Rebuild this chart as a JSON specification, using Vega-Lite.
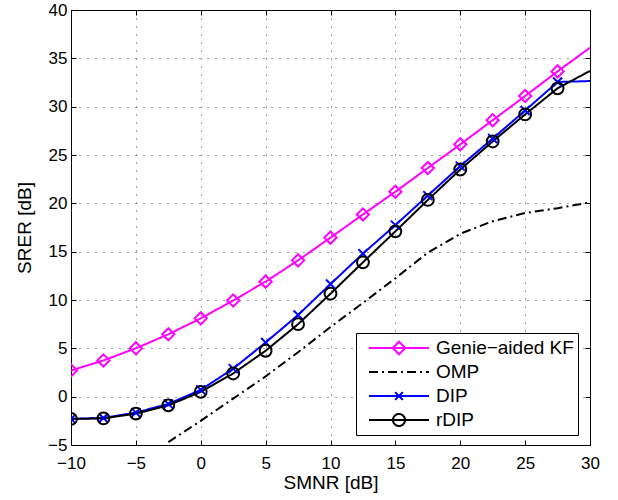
{
  "$schema": "https://vega.github.io/schema/vega-lite/v6.json",
  "width": 519,
  "height": 435,
  "autosize": "none",
  "padding": {"left": 71, "top": 10, "right": 28, "bottom": 55},
  "background": "white",
  "config": {
    "font": "Liberation Sans",
    "view": {"stroke": "black", "strokeWidth": 1},
    "axis": {
      "domain": false,
      "tickSize": -5,
      "tickColor": "black",
      "tickWidth": 1,
      "labelFontSize": 17,
      "labelColor": "black",
      "labelFont": "Liberation Sans",
      "titleFont": "Liberation Sans",
      "titleFontSize": 19,
      "titleFontWeight": "normal",
      "titleColor": "black",
      "gridColor": "#333333",
      "gridDash": [1, 7],
      "gridWidth": 1,
      "gridOpacity": 0.9
    },
    "legend": {
      "labelFont": "Liberation Sans",
      "labelFontSize": 19,
      "labelColor": "black"
    }
  },
  "data": {
    "values": [
      {"series": "Genie−aided KF", "smnr": -10, "srer": 2.7},
      {"series": "Genie−aided KF", "smnr": -7.5, "srer": 3.75},
      {"series": "Genie−aided KF", "smnr": -5, "srer": 5.0},
      {"series": "Genie−aided KF", "smnr": -2.5, "srer": 6.45},
      {"series": "Genie−aided KF", "smnr": 0, "srer": 8.1},
      {"series": "Genie−aided KF", "smnr": 2.5, "srer": 9.95},
      {"series": "Genie−aided KF", "smnr": 5, "srer": 11.9},
      {"series": "Genie−aided KF", "smnr": 7.5, "srer": 14.1},
      {"series": "Genie−aided KF", "smnr": 10, "srer": 16.45},
      {"series": "Genie−aided KF", "smnr": 12.5, "srer": 18.85},
      {"series": "Genie−aided KF", "smnr": 15, "srer": 21.2},
      {"series": "Genie−aided KF", "smnr": 17.5, "srer": 23.65},
      {"series": "Genie−aided KF", "smnr": 20, "srer": 26.1},
      {"series": "Genie−aided KF", "smnr": 22.5, "srer": 28.6},
      {"series": "Genie−aided KF", "smnr": 25, "srer": 31.1},
      {"series": "Genie−aided KF", "smnr": 27.5, "srer": 33.65},
      {"series": "Genie−aided KF", "smnr": 30, "srer": 36.1},
      {"series": "OMP", "smnr": -2.5, "srer": -4.7},
      {"series": "OMP", "smnr": 0, "srer": -2.5},
      {"series": "OMP", "smnr": 2.5, "srer": -0.2},
      {"series": "OMP", "smnr": 5, "srer": 2.1},
      {"series": "OMP", "smnr": 7.5, "srer": 4.6},
      {"series": "OMP", "smnr": 10, "srer": 7.2},
      {"series": "OMP", "smnr": 12.5, "srer": 9.7},
      {"series": "OMP", "smnr": 15, "srer": 12.25},
      {"series": "OMP", "smnr": 17.5, "srer": 14.9},
      {"series": "OMP", "smnr": 20, "srer": 16.85},
      {"series": "OMP", "smnr": 22.5, "srer": 18.15},
      {"series": "OMP", "smnr": 25, "srer": 19.0},
      {"series": "OMP", "smnr": 27.5, "srer": 19.5},
      {"series": "OMP", "smnr": 30, "srer": 20.1},
      {"series": "DIP", "smnr": -10, "srer": -2.3},
      {"series": "DIP", "smnr": -7.5, "srer": -2.2},
      {"series": "DIP", "smnr": -5, "srer": -1.65},
      {"series": "DIP", "smnr": -2.5, "srer": -0.75},
      {"series": "DIP", "smnr": 0, "srer": 0.7},
      {"series": "DIP", "smnr": 2.5, "srer": 2.9},
      {"series": "DIP", "smnr": 5, "srer": 5.6},
      {"series": "DIP", "smnr": 7.5, "srer": 8.45},
      {"series": "DIP", "smnr": 10, "srer": 11.65},
      {"series": "DIP", "smnr": 12.5, "srer": 14.8},
      {"series": "DIP", "smnr": 15, "srer": 17.75},
      {"series": "DIP", "smnr": 17.5, "srer": 20.8},
      {"series": "DIP", "smnr": 20, "srer": 23.85},
      {"series": "DIP", "smnr": 22.5, "srer": 26.7},
      {"series": "DIP", "smnr": 25, "srer": 29.6},
      {"series": "DIP", "smnr": 27.5, "srer": 32.55},
      {"series": "DIP", "smnr": 30, "srer": 32.65},
      {"series": "rDIP", "smnr": -10, "srer": -2.3},
      {"series": "rDIP", "smnr": -7.5, "srer": -2.25},
      {"series": "rDIP", "smnr": -5, "srer": -1.75},
      {"series": "rDIP", "smnr": -2.5, "srer": -0.9},
      {"series": "rDIP", "smnr": 0, "srer": 0.5},
      {"series": "rDIP", "smnr": 2.5, "srer": 2.4},
      {"series": "rDIP", "smnr": 5, "srer": 4.75},
      {"series": "rDIP", "smnr": 7.5, "srer": 7.5},
      {"series": "rDIP", "smnr": 10, "srer": 10.65},
      {"series": "rDIP", "smnr": 12.5, "srer": 13.9},
      {"series": "rDIP", "smnr": 15, "srer": 17.1},
      {"series": "rDIP", "smnr": 17.5, "srer": 20.35},
      {"series": "rDIP", "smnr": 20, "srer": 23.5},
      {"series": "rDIP", "smnr": 22.5, "srer": 26.4},
      {"series": "rDIP", "smnr": 25, "srer": 29.2},
      {"series": "rDIP", "smnr": 27.5, "srer": 31.9},
      {"series": "rDIP", "smnr": 30, "srer": 33.7}
    ]
  },
  "layer": [
    {
      "mark": {"type": "line", "strokeWidth": 2, "clip": true},
      "encoding": {
        "x": {
          "field": "smnr", "type": "quantitative",
          "scale": {"domain": [-10, 30], "nice": false, "zero": false},
          "axis": {
            "orient": "bottom", "title": "SMNR [dB]", "grid": true,
            "values": [-10, -5, 0, 5, 10, 15, 20, 25, 30],
            "labelPadding": 15, "labelFlush": false,
            "titleBaseline": "alphabetic", "titleY": 43
          }
        },
        "y": {
          "field": "srer", "type": "quantitative",
          "scale": {"domain": [-5, 40], "nice": false, "zero": false},
          "axis": {
            "orient": "left", "title": "SRER [dB]", "grid": true,
            "values": [-5, 0, 5, 10, 15, 20, 25, 30, 35, 40],
            "labelPadding": 9, "labelFlush": false,
            "titleBaseline": "alphabetic", "titleX": -41
          }
        },
        "color": {
          "field": "series", "type": "nominal",
          "scale": {"domain": ["Genie−aided KF", "OMP", "DIP", "rDIP"], "range": ["#ff00ff", "#000000", "#0000ff", "#000000"]},
          "legend": {
            "title": null,
            "orient": "none",
            "legendX": 285,
            "legendY": 323,
            "padding": 4,
            "strokeColor": "black",
            "fillColor": "white",
            "symbolType": "stroke",
            "symbolSize": 3600,
            "symbolOffset": 8,
            "labelOffset": 6,
            "clipHeight": 22,
            "rowPadding": 2,
            "encode": {
              "symbols": {
                "update": {
                  "shape": {"signal": "datum.value === 'OMP' ? 'M-1,0H1' : datum.value === 'DIP' ? 'M-1,0H1M-0.13,-0.13L0.13,0.13M-0.13,0.13L0.13,-0.13' : datum.value === 'rDIP' ? 'M-1,0H1M-0.2,0A0.2,0.2,0,1,0,0.2,0A0.2,0.2,0,1,0,-0.2,0' : 'M-1,0H1M-0.21,0L0,-0.21L0.21,0L0,0.21Z'"},
                  "stroke": {"signal": "datum.value === 'DIP' ? '#0000ff' : (datum.value === 'OMP' || datum.value === 'rDIP') ? '#000000' : '#ff00ff'"},
                  "strokeDash": {"signal": "datum.value === 'OMP' ? [9, 4, 2, 4] : [1, 0]"},
                  "fill": {"value": "transparent"},
                  "strokeWidth": {"value": 2},
                  "opacity": {"value": 1},
                  "size": {"value": 3600}
                }
              }
            }
          }
        },
        "strokeDash": {
          "field": "series", "type": "nominal",
          "scale": {"domain": ["Genie−aided KF", "OMP", "DIP", "rDIP"], "range": [[1, 0], [9, 4, 2, 4], [1, 0], [1, 0]]},
          "legend": null
        }
      }
    },
    {
      "transform": [{"filter": "datum.series !== 'OMP' && datum.smnr < 29"}],
      "mark": {"type": "point", "filled": false, "strokeWidth": 2, "opacity": 1, "clip": true},
      "encoding": {
        "x": {
          "field": "smnr", "type": "quantitative",
          "axis": {"orient": "top", "title": null, "grid": false, "labels": false, "values": [-10, -5, 0, 5, 10, 15, 20, 25, 30]}
        },
        "y": {
          "field": "srer", "type": "quantitative",
          "axis": {"orient": "right", "title": null, "grid": false, "labels": false, "values": [-5, 0, 5, 10, 15, 20, 25, 30, 35, 40]}
        },
        "stroke": {
          "field": "series", "type": "nominal",
          "scale": {"domain": ["Genie−aided KF", "DIP", "rDIP"], "range": ["#ff00ff", "#0000ff", "#000000"]},
          "legend": null
        },
        "size": {
          "field": "series", "type": "nominal",
          "scale": {"type": "ordinal", "domain": ["Genie−aided KF", "DIP", "rDIP"], "range": [150, 81, 140]},
          "legend": null
        },
        "shape": {
          "field": "series", "type": "nominal",
          "scale": {"domain": ["Genie−aided KF", "DIP", "rDIP"], "range": ["diamond", "M-1,-1L1,1M-1,1L1,-1", "circle"]},
          "legend": null
        }
      }
    }
  ],
  "resolve": {"axis": {"x": "independent", "y": "independent"}}
}
